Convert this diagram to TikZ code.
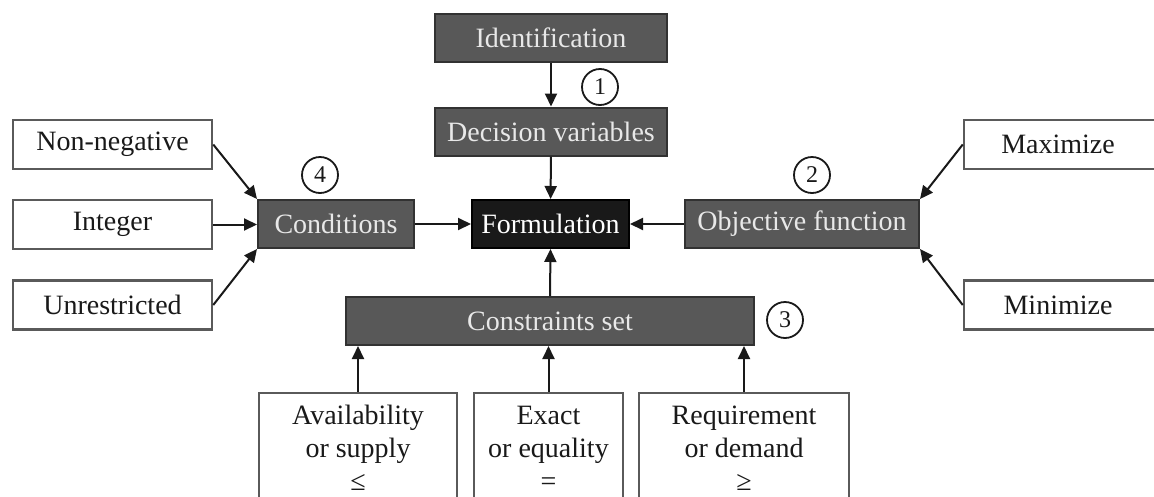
\documentclass[tikz,border=0pt]{standalone}
\usepackage{fontspec}
\setmainfont{Liberation Serif}
\usetikzlibrary{arrows.meta}
\definecolor{boxgray}{RGB}{88,88,88}
\definecolor{boxedge}{RGB}{50,50,50}
\definecolor{boxtext}{RGB}{232,232,232}
\definecolor{lightedge}{RGB}{90,90,90}
\definecolor{ink}{RGB}{25,25,25}
\tikzset{
  darkbox/.style={draw=boxedge, line width=2pt, fill=boxgray, text=boxtext,
    minimum height=48pt, inner sep=0pt, font=\fontsize{28}{33}\selectfont},
  blackbox/.style={darkbox, fill=ink, draw=black, text=white},
  whitebox/.style={draw=lightedge, line width=2.5pt, fill=white, text=ink,
    minimum height=49pt, inner sep=0pt, font=\fontsize{28}{33}\selectfont},
  tallbox/.style={whitebox, align=center, minimum height=110pt},
  num/.style={circle, draw=ink, line width=1.8pt, minimum size=36pt, inner sep=0pt,
    text=ink, font=\fontsize{24}{24}\selectfont},
  conn/.style={draw=ink, line width=2pt, -{Triangle[length=13pt,width=12pt]}}
}
\begin{document}
\begin{tikzpicture}[x=1pt, y=-1pt]
\useasboundingbox (0,0) rectangle (1154,496);
\clip (0,0) rectangle (1154,496);

% central column
\node[darkbox, minimum width=232pt] (ident) at (551,37.5) {Identification};
\node[darkbox, minimum width=232pt] (dvar) at (551,131.5) {Decision variables};
\node[blackbox, minimum width=157pt] (form) at (550.5,224) {Formulation};
\node[darkbox, minimum width=408pt] (cons) at (550,321) {Constraints set};

% objective side
\node[darkbox, minimum width=234pt] (obj) at (802,224) {Objective function};
\node[whitebox, minimum width=200pt] (max) at (1064,144.5) {\hspace*{-12pt}Maximize};
\node[whitebox, minimum width=200pt] (min) at (1064,305) {\hspace*{-12pt}Minimize};

% conditions side
\node[darkbox, minimum width=156pt] (cond) at (336,224) {Conditions};
\node[whitebox, minimum width=199pt] (nonneg) at (112.5,144.5) {Non-negative};
\node[whitebox, minimum width=199pt] (integer) at (112.5,224.5) {Integer};
\node[whitebox, minimum width=199pt] (unres) at (112.5,305) {Unrestricted};

% constraint kinds
\node[tallbox, minimum width=198pt] (avail) at (358,448) {Availability\\or supply\\≤};
\node[tallbox, minimum width=149pt] (exact) at (548.5,448) {Exact\\or equality\\=};
\node[tallbox, minimum width=210pt] (req) at (744,448) {Requirement\\or demand\\≥};

% step numbers
\node[num] (n1) at (600,87) {1};
\node[num] (n2) at (812,175) {2};
\node[num] (n3) at (785,320) {3};
\node[num] (n4) at (320,175) {4};

% connectors
\draw[conn] (ident) -- (dvar);
\draw[conn] (dvar) -- (form);
\draw[conn] (cond) -- (form);
\draw[conn] (obj) -- (form);
\draw[conn] (cons.north) -- (form.south);
\draw[conn] (nonneg.east) -- (cond.north west);
\draw[conn] (integer.east) -- (integer.east -| cond.west);
\draw[conn] (unres.east) -- (cond.south west);
\draw[conn] (max.west) -- (obj.north east);
\draw[conn] (min.west) -- (obj.south east);
\draw[conn] (avail.north) -- (avail.north |- cons.south);
\draw[conn] (exact.north) -- (exact.north |- cons.south);
\draw[conn] (req.north) -- (req.north |- cons.south);
\end{tikzpicture}
\end{document}
